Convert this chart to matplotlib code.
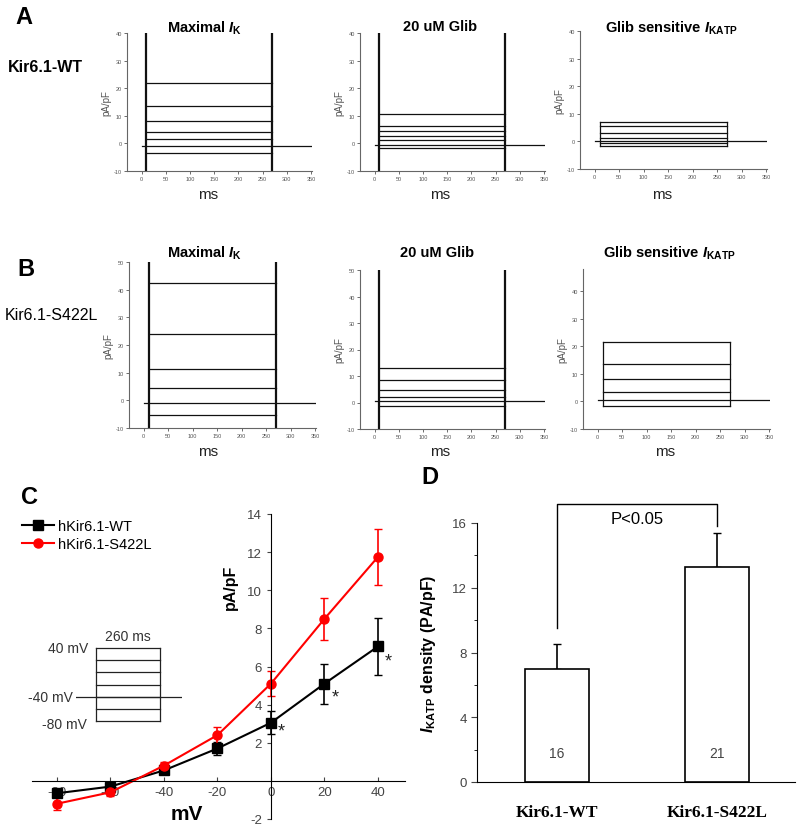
import matplotlib
matplotlib.use('Agg')
import matplotlib.pyplot as plt
from matplotlib.ticker import MultipleLocator

W, H = 800, 828

plt.rcParams['font.family'] = ['Liberation Sans', 'DejaVu Sans']
plt.rcParams['axes.unicode_minus'] = False
plt.rcParams['mathtext.fontset'] = 'custom'
plt.rcParams['mathtext.rm'] = 'Liberation Sans:bold'
plt.rcParams['mathtext.it'] = 'Liberation Sans:italic:bold'
plt.rcParams['mathtext.bf'] = 'Liberation Sans:bold'

# --- Panel A/B: steady current levels of each sweep (pA/pF) ---
wt_max = [21.8, 13.6, 8.0, 4.0, 1.7, -3.5]
wt_glib = [10.8, 6.3, 4.5, 2.8, 1.2, -1.8]
wt_sens = [7.2, 5.4, 3.0, 1.2, -0.4, -1.6]
mut_max = [42.5, 24.0, 11.3, 4.6, -5.4]
mut_glib = [13.0, 8.5, 4.8, 2.2, -1.2]
mut_sens = [21.5, 13.5, 8.3, 3.5, -1.5]
# holding current at -40 mV for each panel
hold_wt = [-1.0, -0.5, 0.0]
hold_mut = [-0.8, 0.5, 0.5]

step_on, step_off, sweep_end = 10, 270, 350

# --- Panel C: I-V relation ---
mv = [-80, -60, -40, -20, 0, 20, 40]
iv_wt = [-0.65, -0.3, 0.55, 1.7, 3.05, 5.1, 7.05]
iv_wt_err = [0.2, 0.15, 0.15, 0.35, 0.6, 1.05, 1.5]
iv_mut = [-1.2, -0.6, 0.8, 2.4, 5.1, 8.5, 11.75]
iv_mut_err = [0.35, 0.2, 0.2, 0.45, 0.65, 1.1, 1.45]
star_mv = [0, 20, 40]
star_y = [2.6, 4.4, 6.3]

# voltage protocol
proto_steps = [40, 20, 0, -20, -40, -60, -80]
proto_len = 260

# --- Panel D: KATP density ---
groups = ['Kir6.1-WT', 'Kir6.1-S422L']
density = [7.0, 13.3]
density_err = [1.5, 2.1]
n_cells = [16, 21]


def box(l, t, r, b):
    return [l / W, 1 - b / H, (r - l) / W, (b - t) / H]


def trace_panel(rect, levels, hold, ylim, yticks, spikes, title, tx, ty, msx, msy):
    ax = fig.add_axes(box(*rect))
    ax.set_xlim(-30, 352)
    ax.set_ylim(*ylim)
    # holding trace across the whole sweep
    ax.plot([0, sweep_end], [hold, hold], color='#111111', lw=0.9)
    for lv in levels:
        ax.plot([step_on, step_off], [lv, lv], color='#111111', lw=0.9)
    if spikes:
        for t in (step_on, step_off):
            ax.plot([t, t], [ylim[0], yticks[-1]], color='#111111', lw=1.6)
    else:
        for t in (step_on, step_off):
            ax.plot([t, t], [min(levels), max(levels)], color='#111111', lw=0.9)
    for s in ('top', 'right'):
        ax.spines[s].set_visible(False)
    for s in ('left', 'bottom'):
        ax.spines[s].set_color('#666666')
        ax.spines[s].set_linewidth(0.8)
    ax.set_yticks(yticks)
    ax.set_xticks(range(0, 351, 50))
    ax.tick_params(labelsize=4, colors='#555555', length=2, width=0.6, pad=1.5)
    ax.set_ylabel('pA/pF', fontsize=7, color='#555555', labelpad=2)
    fig.text(tx / W, 1 - ty / H, title, fontsize=10.5, fontweight='bold',
             ha='center', va='center')
    fig.text(msx / W, 1 - msy / H, 'ms', fontsize=11, ha='center', va='center',
             color='#222222')
    return ax


fig = plt.figure(figsize=(W / 100, H / 100), dpi=100)

# Panel A
trace_panel((127, 34, 312, 172), wt_max, hold_wt[0], (-10, 40), range(-10, 41, 10), True,
            r'Maximal $I_{\mathrm{K}}$', 205, 28, 208, 195)
trace_panel((360, 34, 545, 172), wt_glib, hold_wt[1], (-10, 40), range(-10, 41, 10), True,
            '20 uM Glib', 440, 27, 440, 195)
trace_panel((580, 32, 767, 170), wt_sens, hold_wt[2], (-10, 40), range(-10, 41, 10), False,
            r'Glib sensitive $I_{\mathrm{KATP}}$', 671, 28, 662, 195)

# Panel B
trace_panel((129, 263, 316, 429), mut_max, hold_mut[0], (-10, 50), range(-10, 51, 10), True,
            r'Maximal $I_{\mathrm{K}}$', 205, 253, 208, 452)
trace_panel((360, 271, 545, 430), mut_glib, hold_mut[1], (-10, 50), range(-10, 51, 10), True,
            '20 uM Glib', 437, 253, 440, 452)
trace_panel((583, 270, 770, 430), mut_sens, hold_mut[2], (-10, 48), range(-10, 41, 10), False,
            r'Glib sensitive $I_{\mathrm{KATP}}$', 669, 253, 665, 452)

for lab, x, y in (('A', 24, 17), ('B', 26, 270), ('C', 30, 498), ('D', 430, 478)):
    fig.text(x / W, 1 - y / H, lab, fontsize=17, fontweight='bold', ha='center', va='center')
fig.text(8 / W, 1 - 68 / H, 'Kir6.1-WT', fontsize=11.5, fontweight='bold', va='center')
fig.text(5 / W, 1 - 316 / H, 'Kir6.1-S422L', fontsize=11.5, va='center')

# Panel C
axc = fig.add_axes(box(32, 515, 405, 820))
axc.set_xlim(-89.3, 50.1)
axc.set_ylim(-2, 14)
axc.spines['left'].set_position(('data', 0))
axc.spines['bottom'].set_position(('data', 0))
axc.spines['top'].set_visible(False)
axc.spines['right'].set_visible(False)
axc.set_xticks(mv)
axc.set_yticks([-2, 2, 4, 6, 8, 10, 12, 14])
axc.tick_params(labelsize=9.5, colors='#444444', length=3)
axc.tick_params(axis='x', direction='in')
axc.errorbar(mv, iv_wt, yerr=iv_wt_err, fmt='none', ecolor='black', capsize=3, lw=1.2)
axc.errorbar(mv, iv_mut, yerr=iv_mut_err, fmt='none', ecolor='red', capsize=3, lw=1.2)
axc.plot(mv, iv_wt, color='black', marker='s', ms=6.5, lw=1.5, label='hKir6.1-WT')
axc.plot(mv, iv_mut, color='red', marker='o', ms=6.5, lw=1.5, label='hKir6.1-S422L')
for m, y in zip(star_mv, star_y):
    axc.text(m + 4, y, '*', fontsize=13, ha='center', va='center', color='#222222')
axc.text(-15, 10.2, 'pA/pF', rotation=90, fontsize=11.5, fontweight='bold',
         ha='center', va='center')
axc.text(-31.5, -1.7, 'mV', fontsize=15, fontweight='bold', ha='center', va='center')
axc.legend(loc='upper left', bbox_to_anchor=(22 / W, 1 - 520 / H), bbox_transform=fig.transFigure,
           frameon=False, fontsize=10.5, handlelength=2.2, handletextpad=0.3,
           borderpad=0, labelspacing=0.25, borderaxespad=0)

# voltage protocol inset
axi = fig.add_axes(box(76, 645, 182, 726))
axi.set_xlim(-81, 349)
axi.set_ylim(-86, 46)
axi.axis('off')
axi.plot([-81, 349], [-40, -40], color='#222222', lw=0.9)
for v in proto_steps:
    axi.plot([0, proto_len], [v, v], color='#222222', lw=0.9)
for t in (0, proto_len):
    axi.plot([t, t], [min(proto_steps), max(proto_steps)], color='#222222', lw=0.9)
axi.text(proto_len / 2, 47, '260 ms', fontsize=10, color='#333333', ha='center', va='bottom')
axi.text(-30, 40, '40 mV', fontsize=10, color='#333333', ha='right', va='center')
axi.text(-95, -40, '-40 mV', fontsize=10, color='#333333', ha='right', va='center')
axi.text(-35, -84, '-80 mV', fontsize=10, color='#333333', ha='right', va='center')

# Panel D
axd = fig.add_axes(box(477, 524, 795, 783))
axd.set_xlim(-0.5, 1.49)
axd.set_ylim(0, 16)
axd.bar([0, 1], density, width=0.4, color='white', edgecolor='black', lw=1.2, zorder=2)
axd.errorbar([0, 1], density, yerr=[[0, 0], density_err], fmt='none', ecolor='black',
             capsize=3, lw=1.2, zorder=1)
for i, n in enumerate(n_cells):
    axd.text(i, 1.8, str(n), fontsize=10, color='#444444', ha='center', va='center')
axd.plot([0, 0, 1, 1], [9.5, 17.2, 17.2, 15.8], color='black', lw=1.0, clip_on=False)
axd.text(0.5, 16.3, 'P<0.05', fontsize=12, ha='center', va='center')
axd.spines['top'].set_visible(False)
axd.spines['right'].set_visible(False)
axd.set_yticks([0, 4, 8, 12, 16])
axd.yaxis.set_minor_locator(MultipleLocator(2))
axd.tick_params(axis='y', labelsize=9.5, colors='#444444', length=4)
axd.tick_params(axis='y', which='minor', length=2)
axd.set_xticks([0, 1])
axd.set_xticklabels(groups, fontfamily='Liberation Serif', fontweight='bold', fontsize=12.5)
axd.tick_params(axis='x', length=0, pad=16)
axd.set_ylabel(r'$I_{\mathrm{KATP}}$ density (PA/pF)', fontsize=11.5, fontweight='bold')
axd.yaxis.set_label_coords((438 - 477) / 318, 0.5)

fig.savefig('out.png', dpi=100)
